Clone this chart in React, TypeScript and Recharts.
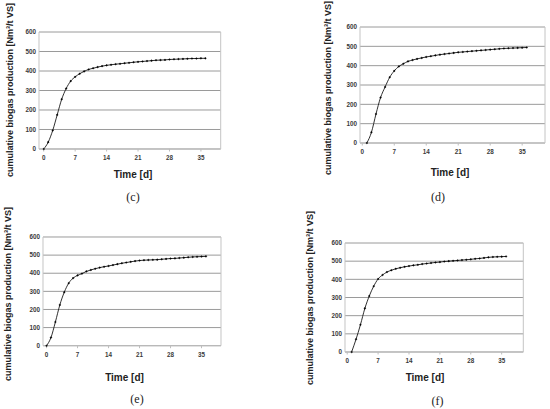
import React from 'react';
import { LineChart, Line, XAxis, YAxis, CartesianGrid } from 'recharts';

const yTicks = [0, 100, 200, 300, 400, 500, 600];
const xTicks = [0, 7, 14, 21, 28, 35];

const yTitle = 'cumulative biogas production [Nm³/t VS]';
const xTitle = 'Time [d]';

const daysC = [0, 1, 2, 3, 4, 5, 6, 7, 8, 9, 10, 11, 12, 13, 14, 15, 16, 17, 18, 19, 20, 21, 22, 23, 24, 25, 26, 27, 28, 29, 30, 31, 32, 33, 34, 35, 36];
const valuesC = [0, 35, 95, 175, 255, 310, 348, 370, 386, 398, 408, 414, 420, 425, 429, 432, 435, 437, 440, 442, 445, 447, 449, 451, 453, 455, 456, 457, 459, 460, 461, 462, 463, 464, 464, 465, 465];

const daysD = [1, 2, 3, 4, 5, 6, 7, 8, 9, 10, 11, 12, 13, 14, 15, 16, 17, 18, 19, 20, 21, 22, 23, 24, 25, 26, 27, 28, 29, 30, 31, 32, 33, 34, 35, 36];
const valuesD = [0, 55, 150, 235, 290, 340, 373, 396, 410, 422, 429, 435, 440, 445, 449, 453, 457, 460, 463, 466, 469, 471, 473, 475, 477, 479, 481, 483, 485, 487, 489, 490, 491, 492, 493, 494];

const daysE = [0, 1, 2, 3, 4, 5, 6, 7, 8, 9, 10, 11, 12, 13, 14, 15, 16, 17, 18, 19, 20, 21, 22, 23, 24, 25, 26, 27, 28, 29, 30, 31, 32, 33, 34, 35, 36];
const valuesE = [0, 45, 131, 225, 295, 345, 373, 388, 398, 410, 418, 425, 431, 436, 440, 445, 450, 455, 459, 463, 467, 470, 472, 473, 474, 475, 477, 479, 481, 482, 484, 486, 488, 490, 491, 492, 493];

const daysF = [1, 2, 3, 4, 5, 6, 7, 8, 9, 10, 11, 12, 13, 14, 15, 16, 17, 18, 19, 20, 21, 22, 23, 24, 25, 26, 27, 28, 29, 30, 31, 32, 33, 34, 35, 36];
const valuesF = [0, 70, 150, 240, 308, 362, 402, 424, 440, 450, 458, 464, 469, 473, 477, 480, 484, 487, 490, 493, 495, 498, 500, 502, 504, 506, 508, 510, 513, 515, 518, 521, 523, 524, 525, 526];

const captions = ['(c)', '(d)', '(e)', '(f)'];

function toRows(days: number[], values: number[]) {
  return days.map((d, i) => ({ day: d, v: values[i] }));
}

type PanelProps = {
  days: number[];
  values: number[];
  caption: string;
  x0: number; x1: number; y0: number; y1: number;
  xDomain: [number, number];
  yTitleX: number; yTitleY: number;
  xTitleX: number; xTitleY: number;
  capX: number; capY: number;
};

const YW = 34;
const RW = 1;
const XH = 22;
const PAD = 6;

function Panel(p: PanelProps) {
  const L = p.x0 - YW;
  const T = p.y0 - PAD;
  const W = p.x1 - L + PAD;
  const H = p.y1 - T + XH;
  const tickStyle = { fontSize: 6.3, fontWeight: 700, fill: '#3a3a3a', fontFamily: 'Liberation Sans, Arial, sans-serif' };
  return (
    <>
      <div style={{ position: 'absolute', left: L, top: T }}>
        <LineChart
          width={W}
          height={H}
          data={toRows(p.days, p.values)}
          margin={{ top: PAD, right: PAD - RW, left: 0, bottom: 0 }}
        >
          <CartesianGrid vertical={false} stroke="#8f8f8f" strokeWidth={0.9} />
          <XAxis
            dataKey="day"
            type="number"
            domain={p.xDomain}
            ticks={xTicks}
            interval={0}
            height={XH}
            tick={tickStyle}
            tickSize={2.5}
            tickMargin={4}
            stroke="#bdbdbd"
            allowDataOverflow
          />
          <YAxis
            type="number"
            domain={[0, 600]}
            ticks={yTicks}
            interval={0}
            width={YW}
            tick={tickStyle}
            tickSize={0}
            tickMargin={3}
            stroke="#c4c4c4"
          />
          <YAxis
            yAxisId="r"
            orientation="right"
            type="number"
            domain={[0, 600]}
            ticks={yTicks}
            interval={0}
            width={RW}
            tick={false}
            tickSize={0}
            stroke="#c4c4c4"
          />
          <Line
            dataKey="v"
            type="monotone"
            stroke="#1a1a1a"
            strokeWidth={0.9}
            dot={{ r: 0.8, fill: '#000', stroke: '#000', strokeWidth: 0.4 }}
            isAnimationActive={false}
          />
        </LineChart>
      </div>
      <div
        style={{
          position: 'absolute',
          left: p.yTitleX,
          top: p.yTitleY,
          transform: 'translate(-50%, -50%) rotate(-90deg)',
          whiteSpace: 'nowrap',
          fontFamily: 'Liberation Sans, Arial, sans-serif',
          fontWeight: 700,
          fontSize: 9,
          color: '#222',
          lineHeight: 1,
        }}
      >
        {yTitle}
      </div>
      <div
        style={{
          position: 'absolute',
          left: p.xTitleX,
          top: p.xTitleY,
          transform: 'translate(-50%, -50%)',
          whiteSpace: 'nowrap',
          fontFamily: 'Liberation Sans, Arial, sans-serif',
          fontWeight: 700,
          fontSize: 10,
          color: '#222',
          lineHeight: 1,
        }}
      >
        {xTitle}
      </div>
      <div
        style={{
          position: 'absolute',
          left: p.capX,
          top: p.capY,
          transform: 'translate(-50%, -50%)',
          whiteSpace: 'nowrap',
          fontFamily: 'Liberation Serif, serif',
          fontSize: 12,
          color: '#222',
          lineHeight: 1,
        }}
      >
        {p.caption}
      </div>
    </>
  );
}

export default function App() {
  return (
    <div style={{ position: 'absolute', left: 0, top: 0, width: 550, height: 409, background: '#fff', overflow: 'hidden' }}>
      <Panel
        days={daysC} values={valuesC} caption={captions[0]}
        x0={39} x1={220.7} y0={32} y1={149} xDomain={[-1.05, 39.4]}
        yTitleX={9.5} yTitleY={90} xTitleX={133} xTitleY={175} capX={133} capY={197}
      />
      <Panel
        days={daysD} values={valuesD} caption={captions[1]}
        x0={360} x1={545} y0={27.3} y1={143.3} xDomain={[-0.5, 40]}
        yTitleX={327.5} yTitleY={88} xTitleX={450} xTitleY={173} capX={438} capY={197}
      />
      <Panel
        days={daysE} values={valuesE} caption={captions[2]}
        x0={42.7} x1={220.7} y0={237.3} y1={346} xDomain={[-0.8, 39.4]}
        yTitleX={7.5} yTitleY={294} xTitleX={124.5} xTitleY={378} capX={137} capY={399}
      />
      <Panel
        days={daysF} values={valuesF} caption={captions[3]}
        x0={345} x1={523.3} y0={243.3} y1={352.3} xDomain={[-0.5, 39.9]}
        yTitleX={310} yTitleY={298} xTitleX={425} xTitleY={378} capX={437.5} capY={401}
      />
    </div>
  );
}
